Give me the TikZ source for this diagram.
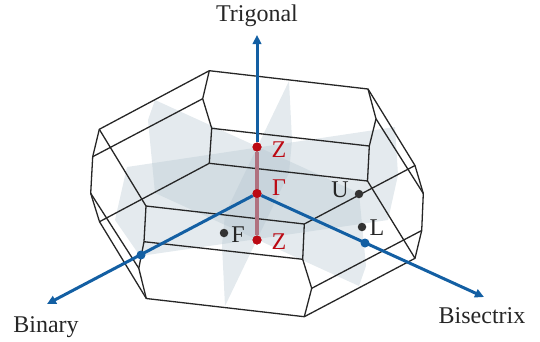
\documentclass[tikz,border=0pt]{standalone}
\usepackage{fontspec}
\setmainfont{Liberation Serif}
\usetikzlibrary{arrows.meta}
\definecolor{axblue}{HTML}{135FA3}
\definecolor{ptred}{HTML}{BC0A14}
\definecolor{ptdark}{HTML}{333333}
\definecolor{planec}{HTML}{B5C6D0}
\definecolor{zline}{HTML}{B0717F}
\tikzset{
  plane/.style={fill=planec,fill opacity=0.37,draw=none},
  edge/.style={draw=black!85,line width=1.3pt,line join=round},
  axis/.style={draw=axblue,line width=3pt,-{Triangle[length=9pt,width=8.5pt]}},
  redpt/.style={circle,fill=ptred,inner sep=0pt,minimum size=9pt},
  bluept/.style={circle,fill=axblue,inner sep=0pt,minimum size=9pt},
  darkpt/.style={circle,fill=ptdark,inner sep=0pt,minimum size=8.5pt},
  lab/.style={font=\fontsize{24}{26}\selectfont,inner sep=0pt},
  redlab/.style={lab,text=ptred},
  blacklab/.style={lab,text=black!85}
}
\begin{document}
\begin{tikzpicture}[x=1pt,y=-1pt]
\useasboundingbox (0,0) rectangle (540,341);
% planes
\fill[plane] (155,100)--(148,120)--(155,193)--(359,286)--(366,266)--(359,193)--cycle;
\fill[plane] (127,167)--(115,220)--(140,256)--(388,220)--(398,175)--(395,127)--cycle;
\fill[plane] (289,81)--(225,214)--(222,245)--(225,306)--(289,173)--(292,140)--cycle;
% vertices
\coordinate (a1) at (209.3,70.7);
\coordinate (a2) at (368,89);
\coordinate (a3) at (415,165.5);
\coordinate (a4) at (423.3,193.5);
\coordinate (a5) at (421.7,230.5);
\coordinate (a6) at (415,258.3);
\coordinate (a7) at (304.3,316.7);
\coordinate (a8) at (146.3,298.5);
\coordinate (a9) at (99.5,221.7);
\coordinate (a10) at (90.7,193.3);
\coordinate (a11) at (92.7,156.7);
\coordinate (a12) at (99.3,129.3);
\coordinate (b1) at (202.7,98.7);
\coordinate (b2) at (211.7,128.3);
\coordinate (b3) at (209.3,163.3);
\coordinate (b4) at (376,118.8);
\coordinate (b5) at (369.3,146);
\coordinate (b6) at (367.5,181);
\coordinate (c1) at (146,206);
\coordinate (c2) at (144,241.7);
\coordinate (c3) at (138.8,268.3);
\coordinate (d1) at (304.3,224);
\coordinate (d2) at (302.7,259.3);
\coordinate (d3) at (311.7,288.3);
% edges
\draw[edge] (a1)--(a2)--(a3)--(a4)--(a5)--(a6)--(a7)--(a8)--(a9)--(a10)--(a11)--(a12)--cycle;
\draw[edge] (a1)--(b1)--(b2)--(b3);
\draw[edge] (b2)--(b5);
\draw[edge] (b3)--(b6);
\draw[edge] (a11)--(b1);
\draw[edge] (a2)--(b4)--(b5)--(b6);
\draw[edge] (b4)--(a4);
\draw[edge] (b6)--(a6);
\draw[edge] (b3)--(a9);
\draw[edge] (a12)--(c1)--(c2)--(c3)--(a8);
\draw[edge] (a10)--(c3);
\draw[edge] (c1)--(d1)--(d2)--(d3)--(a7);
\draw[edge] (c2)--(d2);
\draw[edge] (d1)--(a3);
\draw[edge] (d3)--(a5);
% points
\node[redpt] (zt) at (257,147) {};
\node[redpt] (gam) at (257,193.5) {};
\node[redpt] (zb) at (257,240) {};
\coordinate (trig) at (257,35);
\coordinate (bin) at (47,304);
\coordinate (bis) at (484,297);
% axes
\draw[axis] (zt)--(trig);
\draw[axis] (gam)--(bin);
\draw[axis] (gam)--(bis);
\draw[draw=zline,line width=3.2pt] (zt)--(zb);
\node[redpt] at (zt) {};
\node[redpt] at (gam) {};
\node[redpt] at (zb) {};
\node[bluept] (pb) at (141,255) {};
\node[bluept] (pl) at (365,243) {};
\node[darkpt] (f) at (224,233) {};
\node[darkpt] (u) at (359,194) {};
\node[darkpt] (l) at (362,227) {};
% labels
\node[redlab] (zl1) at (279,150) {Z};
\node[redlab] (gl) at (279,188) {Γ};
\node[redlab] (zl2) at (279,242) {Z};
\node[blacklab] (fl) at (238,235) {F};
\node[blacklab] (ul) at (340,190) {U};
\node[blacklab] (ll) at (377,228) {L};
\node[blacklab] (tl) at (257,16) {Trigonal};
\node[blacklab] (bl) at (46,327) {Binary};
\node[blacklab] (il) at (482,316) {Bisectrix};
\end{tikzpicture}
\end{document}
